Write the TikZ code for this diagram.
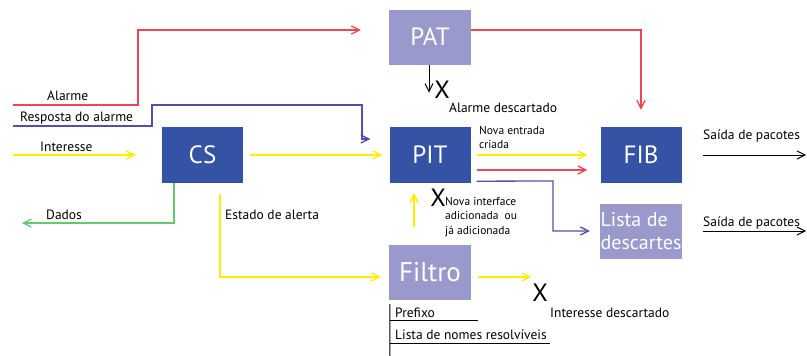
\documentclass[tikz,border=0pt]{standalone}
\usepackage{fontspec}
\setmainfont{PT Sans}
\usepackage{tikz}
\usetikzlibrary{arrows.meta}

\definecolor{boxblue}{RGB}{52,83,164}
\definecolor{boxlilac}{RGB}{153,153,204}
\definecolor{alarmred}{RGB}{240,70,80}
\definecolor{intyellow}{RGB}{255,238,0}
\definecolor{respblue}{RGB}{80,80,170}
\definecolor{datagreen}{RGB}{100,200,110}

\begin{document}
\begin{tikzpicture}[x=1pt,y=1pt,>={Straight Barb[length=8pt,width=8pt]}]
\tikzstyle{every node}+=[inner sep=0pt]
\tikzstyle{darkbox}=[fill=boxblue, text=white, minimum width=81pt, minimum height=56pt, font=\fontsize{25}{25}\selectfont]
\tikzstyle{lightbox}=[fill=boxlilac, text=white, minimum width=82pt, minimum height=55pt, font=\fontsize{25}{25}\selectfont]
\tikzstyle{lbl}=[anchor=base west, font=\fontsize{13.5}{14}\selectfont]
\tikzstyle{note}=[anchor=north west, align=left, font=\fontsize{11.5}{14.5}\selectfont]
\tikzstyle{xmark}=[font=\fontsize{25}{25}\selectfont]
\tikzstyle{alarm}=[alarmred, line width=1.3pt]
\tikzstyle{interest}=[intyellow, line width=1.3pt]
\tikzstyle{reply}=[respblue, line width=1.3pt]
\tikzstyle{data}=[datagreen, line width=1.3pt]
\useasboundingbox (0,0) rectangle (807,-356);
% boxes
\node [lightbox] (PAT) at (430,-37) {PAT};
\node [darkbox] (CS) at (202.5,-155) {CS};
\node [darkbox] (PIT) at (430,-155) {PIT};
\node [darkbox] (FIB) at (641,-155) {FIB};
\node [lightbox, font=\fontsize{20}{23}\selectfont, align=left] (Lista) at (641,-231) {Lista de\\descartes};
\node [lightbox, font=\fontsize{27}{27}\selectfont] (Filtro) at (430,-272.5) {Filtro};
% inputs
\coordinate (alarmIn) at (13,-105);
\coordinate (replyIn) at (13,-126);
\coordinate (interestIn) at (13,-155);
\coordinate (dataOut) at (22,-223);
\node [lbl] (alarmLbl) at (47,-100) {Alarme};
\node [lbl] (replyLbl) at (20,-121) {Resposta do alarme};
\node [lbl] (interestLbl) at (40,-151) {Interesse};
\draw [alarm,->] (alarmIn) -- (138,-105) -- (138,-30) -- ([xshift=-28pt,yshift=7pt]PAT.west);
\draw [reply, line width=2.2pt] (replyIn) -- (152,-126) -- (152,-120);
\draw [reply,->] (152,-121) -- (152,-105) -- (362,-105) -- (362,-139) -- ([xshift=-19pt,yshift=16pt]PIT.west);
\draw [interest,->] (interestIn) -- ([xshift=-26pt]CS.west);
\draw [interest,->] ([xshift=7pt]CS.east) -- ([xshift=-7pt]PIT.west);
% PAT
\draw [alarm,->] ([yshift=7pt]PAT.east) -| ([yshift=17pt]FIB.north);
\draw [line width=1pt,->] ([xshift=-1pt]PAT.south) -- ++(0,-28);
\node [xmark] (xPAT) at (442,-90) {X};
\node [lbl] (patDrop) at (449,-112) {Alarme descartado};
% PIT
\draw [interest,->] ([xshift=6pt]PIT.east) -- ([xshift=-13pt]FIB.west);
\draw [alarm,->] ([xshift=6pt,yshift=-15pt]PIT.east) -- ([xshift=-13pt,yshift=-15pt]FIB.west);
\node [note] (newEntry) at (479,-126) {Nova entrada\\criada};
\draw [reply,->] ([xshift=6pt,yshift=2pt]PIT.south east) -- (553,-181) |- ([xshift=-10pt]Lista.west);
% outputs
\coordinate (fibOut) at (806,-155);
\coordinate (listaOut) at (806,-231);
\draw [line width=1pt,->] ([xshift=21pt]FIB.east) -- (fibOut);
\draw [line width=1pt,->] ([xshift=21pt]Lista.east) -- (listaOut);
\node [lbl] (fibLbl) at (703,-139) {Saída de pacotes};
\node [lbl] (listaLbl) at (703,-226) {Saída de pacotes};
% CS
\draw [data,->] ([xshift=-28.5pt]CS.south) -- (174,-223) -- (dataOut);
\node [lbl] (dataLbl) at (46,-219) {Dados};
\draw [interest,->] ([xshift=17.5pt,yshift=-11pt]CS.south) -- (220,-277) -- ([xshift=-8pt,yshift=-4.5pt]Filtro.west);
\node [lbl] (alertLbl) at (225,-219) {Estado de alerta};
% Filtro
\draw [interest,->] ([xshift=-16pt,yshift=18pt]Filtro.north) -- ([xshift=-16pt,yshift=-10pt]PIT.south);
\node [xmark] (xPIT) at (438,-198) {X};
\node [note] (newIface) at (445,-197) {Nova interface\\adicionada\ \ ou\\já adicionada};
\draw [interest,->] ([xshift=7pt,yshift=-4.5pt]Filtro.east) -- ++(53,0);
\node [xmark] (xFiltro) at (540,-293) {X};
\node [lbl] (filtroDrop) at (550,-317) {Interesse descartado};
% Filtro table
\draw [line width=1pt] ([xshift=1pt,yshift=-4pt]Filtro.south west) -- (390,-356);
\node [lbl] (prefix) at (395,-317) {Prefixo};
\draw [line width=1pt] (390,-320) -- (478,-320);
\node [lbl] (names) at (395,-339) {Lista de nomes resolvíveis};
\draw [line width=1pt] (390,-343) -- (550,-343);
\end{tikzpicture}
\end{document}
